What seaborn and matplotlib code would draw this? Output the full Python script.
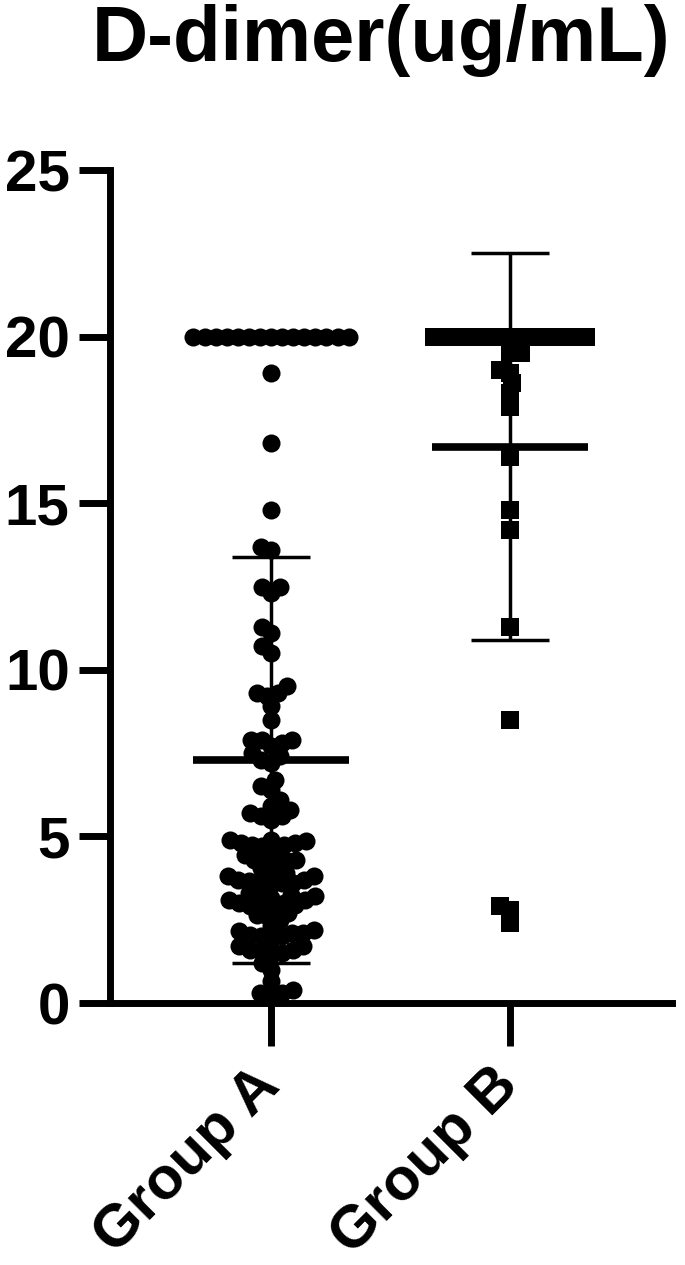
import matplotlib
matplotlib.use("Agg")

import numpy as np
import pandas as pd
import matplotlib.pyplot as plt
import seaborn as sns

groups = ["Group A", "Group B"]

# D-dimer values (20 is the assay cap)
group_a = [20] * 15 + [
    18.9, 16.8, 14.8, 13.7, 13.6, 12.5, 12.5, 12.3, 11.3, 11.1, 10.7, 10.5,
    9.5, 9.3, 9.3, 9.2, 8.9, 8.5, 7.9, 7.9, 7.9, 7.8, 7.7, 7.5, 7.4, 7.3, 7.2,
    6.7, 6.5, 6.4, 6.1, 5.9, 5.7, 5.6, 5.6, 5.8, 5.5,
    4.9, 4.8, 4.8, 4.75, 4.75, 4.9, 4.85, 4.7, 4.6,
    4.45, 4.3, 4.3, 4.3, 4.2, 4.4,
    4.05, 3.9, 3.9, 3.8, 3.8,
    3.7, 3.65, 3.6, 3.6, 3.6, 3.55, 3.7,
    3.25, 3.2, 3.15, 3.1, 3.1, 3.3, 3.2,
    3.0, 2.9, 2.95, 2.9, 2.85, 3.0,
    2.7, 2.6, 2.65, 2.5,
    2.3, 2.2, 2.15, 2.1, 2.0, 2.05, 2.0, 2.1, 1.9,
    1.7, 1.6, 1.55, 1.5, 1.45, 1.6, 1.7,
    1.2, 1.0, 0.65, 0.4, 0.3, 0.3, 0.25,
]
group_b = [20] * 15 + [
    19.5, 19.5, 19.0, 18.9, 18.6, 18.3, 17.9, 16.4,
    14.8, 14.2, 11.3, 8.5, 2.9, 2.8, 2.4,
]

# mean and SD as shown by the bars
group_mean = [7.3, 16.7]
group_sd = [6.1, 5.8]

y_ticks = [0, 5, 10, 15, 20, 25]

df_a = pd.DataFrame({"group": "Group A", "value": group_a})
df_b = pd.DataFrame({"group": "Group B", "value": group_b})

sns.set_style("ticks", {"axes.edgecolor": "black", "xtick.color": "black",
                        "ytick.color": "black", "text.color": "black"})
plt.rcParams["font.family"] = ["Liberation Sans", "DejaVu Sans"]
plt.rcParams["font.weight"] = "bold"

fig = plt.figure(figsize=(6.85, 12.65), dpi=100)
ax = fig.add_axes([0.1606, 0.2071, 0.8204, 0.6585])

# layout uses a smaller marker so the dots overlap like the original
sns.swarmplot(data=df_a, x="group", y="value", order=groups, marker="o",
              size=7.6, color="black", linewidth=0, ax=ax)
sns.swarmplot(data=df_b, x="group", y="value", order=groups, marker="s",
              size=7.4, color="black", linewidth=0, ax=ax)

ax.set_xlim(-0.674, 1.678)
ax.set_ylim(0, 25)
fig.canvas.draw()

for coll in ax.collections:
    if "draw" in coll.__dict__:
        del coll.draw
    coll.set_sizes([13.0 ** 2])
    coll.set_clip_on(False)
    coll.set_zorder(3)

for i, (m, sd) in enumerate(zip(group_mean, group_sd)):
    ax.hlines(m, i - 0.328, i + 0.328, color="black", lw=5.5, zorder=4)
    ax.vlines(i, m - sd, m + sd, color="black", lw=2.5, zorder=2)
    ax.hlines([m - sd, m + sd], i - 0.164, i + 0.164, color="black", lw=2.5, zorder=2)

sns.despine(ax=ax)
for side in ["left", "bottom"]:
    ax.spines[side].set_linewidth(5)
ax.set_yticks(y_ticks)
ax.tick_params(axis="y", length=22, width=5, labelsize=42, pad=7, colors="black")
ax.tick_params(axis="x", length=31, width=5, labelsize=43, pad=22, colors="black")
for lab in ax.get_xticklabels():
    lab.set_rotation(45)
    lab.set_ha("right")
    lab.set_va("center")
    lab.set_rotation_mode("anchor")
for lab in ax.get_xticklabels() + ax.get_yticklabels():
    lab.set_fontweight("bold")
ax.set_xlabel("")
ax.set_ylabel("")

fig.text(0.556, 0.997, "D-dimer(ug/mL)", ha="center", va="top",
         fontsize=56, fontweight="bold", color="black")

fig.savefig("out.png", dpi=100)
plt.close(fig)
